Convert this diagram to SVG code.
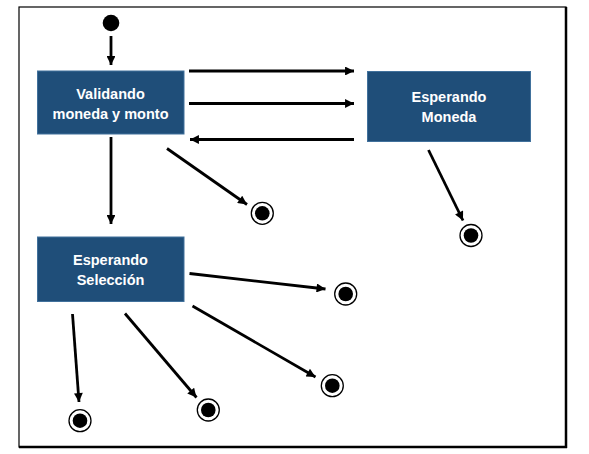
<svg xmlns="http://www.w3.org/2000/svg" width="589" height="454" viewBox="0 0 589 454">
<style>
.state{fill:#1F4E79;stroke:#41719C;stroke-width:1}
.lbl{fill:#FFFFFF;font-family:"Liberation Sans",Arial,sans-serif;font-weight:bold;font-size:14.5px;text-anchor:middle}
.conn line{stroke:#000;stroke-width:2.8;fill:none}
.ring{fill:#fff;stroke:#000;stroke-width:1.3}
</style>
<defs>
<marker id="ah" viewBox="0 0 10 10" refX="10" refY="5" markerWidth="3.8" markerHeight="3.2" orient="auto" markerUnits="strokeWidth">
<path d="M0,0 L10,5 L0,10 z" fill="#000"/>
</marker>
</defs>
<rect x="0" y="0" width="589" height="454" fill="#fff"/>
<g id="frame">
<rect x="19" y="7" width="547" height="440" fill="none" stroke="#000" stroke-width="1.2"/>
<line x1="566" y1="7" x2="566" y2="448" stroke="#000" stroke-width="2.5"/>
<line x1="19" y1="447" x2="567" y2="447" stroke="#000" stroke-width="2.5"/>
</g>
<g class="conn" id="connectors">
<line x1="111" y1="36" x2="111" y2="65" marker-end="url(#ah)"/>
<line x1="189" y1="71" x2="354" y2="71" marker-end="url(#ah)"/>
<line x1="189" y1="103.5" x2="354" y2="103.5" marker-end="url(#ah)"/>
<line x1="354" y1="139.5" x2="190" y2="139.5" marker-end="url(#ah)"/>
<line x1="111" y1="137" x2="111" y2="224" marker-end="url(#ah)"/>
<line x1="167" y1="148.5" x2="247" y2="204.5" marker-end="url(#ah)"/>
<line x1="428.5" y1="150" x2="463" y2="220.5" marker-end="url(#ah)"/>
<line x1="189.5" y1="273.5" x2="325.5" y2="289" marker-end="url(#ah)"/>
<line x1="192.5" y1="306" x2="315.5" y2="377" marker-end="url(#ah)"/>
<line x1="125" y1="313.5" x2="196.5" y2="397.5" marker-end="url(#ah)"/>
<line x1="72.5" y1="314" x2="79" y2="402" marker-end="url(#ah)"/>
</g>
<g id="start"><circle cx="111" cy="23" r="8.3" fill="#000"/></g>
<g id="validando">
<rect class="state" x="37.5" y="71" width="146.5" height="63"/>
<text class="lbl" x="110.5" y="99">Validando</text>
<text class="lbl" x="110.5" y="119">moneda y monto</text>
</g>
<g id="esperando-moneda">
<rect class="state" x="367.5" y="71.5" width="163" height="70"/>
<text class="lbl" x="449" y="102">Esperando</text>
<text class="lbl" x="449" y="122">Moneda</text>
</g>
<g id="esperando-seleccion">
<rect class="state" x="37.5" y="237" width="146.5" height="64.5"/>
<text class="lbl" x="110.5" y="265">Esperando</text>
<text class="lbl" x="110.5" y="285">Selección</text>
</g>
<g id="final1"><circle class="ring" cx="262.3" cy="213.3" r="11"/><circle cx="262.3" cy="213.3" r="7.3" fill="#000"/></g>
<g id="final2"><circle class="ring" cx="471" cy="235.5" r="11"/><circle cx="471" cy="235.5" r="7.3" fill="#000"/></g>
<g id="final3"><circle class="ring" cx="345.7" cy="294" r="11"/><circle cx="345.7" cy="294" r="7.3" fill="#000"/></g>
<g id="final4"><circle class="ring" cx="332.3" cy="385.7" r="11"/><circle cx="332.3" cy="385.7" r="7.3" fill="#000"/></g>
<g id="final5"><circle class="ring" cx="208.3" cy="410" r="11"/><circle cx="208.3" cy="410" r="7.3" fill="#000"/></g>
<g id="final6"><circle class="ring" cx="80" cy="420.7" r="11"/><circle cx="80" cy="420.7" r="7.3" fill="#000"/></g>
</svg>
